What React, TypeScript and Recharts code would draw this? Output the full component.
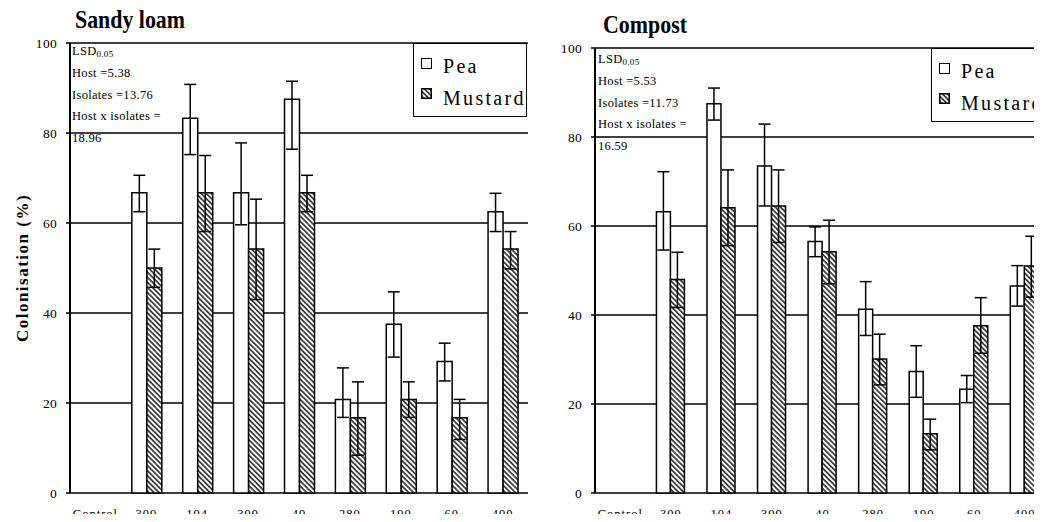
import { BarChart, Bar, XAxis, YAxis, CartesianGrid, ErrorBar, Legend } from 'recharts';

const categories = ['Control', '309', '104', '399', '40', '280', '190', '60', '400'];
const yTicks = [0, 20, 40, 60, 80, 100];

// Sandy loam
const sandyPea = [0, 66.7, 83.3, 66.7, 87.5, 20.8, 37.5, 29.2, 62.5];
const sandyPeaUp = [0, 3.9, 7.5, 11.1, 4, 7, 7.2, 4.1, 4.1];
const sandyPeaDown = [0, 4.2, 8.1, 7.1, 11.1, 4, 7.3, 4.3, 4.4];
const sandyMustard = [0, 50, 66.7, 54.2, 66.7, 16.7, 20.8, 16.7, 54.2];
const sandyMustardUp = [0, 4.2, 8.3, 11.1, 3.9, 8, 3.9, 4.1, 3.9];
const sandyMustardDown = [0, 4.3, 8.6, 11.2, 4.2, 8.3, 4, 4.8, 4.4];

// Compost
const compostPea = [0, 63.2, 87.5, 73.5, 56.5, 41.3, 27.3, 23.3, 46.5];
const compostPeaUp = [0, 9, 3.5, 9.4, 3.3, 6.2, 5.8, 3.1, 4.6];
const compostPeaDown = [0, 8.6, 3.7, 9, 3.4, 5.9, 5.8, 3, 4.5];
const compostMustard = [0, 48, 64.1, 64.5, 54.2, 30.1, 13.3, 37.6, 51];
const compostMustardUp = [0, 6.1, 8.5, 8.1, 7.1, 5.6, 3.3, 6.3, 6.7];
const compostMustardDown = [0, 6.3, 8.5, 8.2, 7.2, 5.8, 3.6, 6.2, 7];

const sandyLsd = ['Host =5.38', 'Isolates =13.76', 'Host x isolates =', '18.96'];
const compostLsd = ['Host =5.53', 'Isolates =11.73', 'Host x isolates =', '16.59'];

const serif = '"Liberation Serif", "Times New Roman", serif';

function rows(pea: number[], peaUp: number[], peaDown: number[], mus: number[], musUp: number[], musDown: number[]) {
  return categories.map((name, i) => ({
    name,
    pea: pea[i],
    mustard: mus[i],
    peaErr: [peaDown[i], peaUp[i]],
    mustardErr: [musDown[i], musUp[i]],
  }));
}

const sandyData = rows(sandyPea, sandyPeaUp, sandyPeaDown, sandyMustard, sandyMustardUp, sandyMustardDown);
const compostData = rows(compostPea, compostPeaUp, compostPeaDown, compostMustard, compostMustardUp, compostMustardDown);

function Hatch({ id }: { id: string }) {
  return (
    <pattern id={id} patternUnits="userSpaceOnUse" width={3.6} height={3.6} patternTransform="rotate(45)">
      <rect width={3.6} height={3.6} fill="#fff" />
      <line x1={0} y1={1.8} x2={3.6} y2={1.8} stroke="#1a1a1a" strokeWidth={1.5} />
    </pattern>
  );
}

function LegendBox({ pid }: { pid: string }) {
  const txt = { position: 'absolute' as const, left: 29, fontFamily: serif, fontSize: 20, letterSpacing: 2.3, lineHeight: '24px', whiteSpace: 'nowrap' as const };
  return (
    <div style={{ position: 'relative', width: 114, height: 74, border: '1.5px solid #000', background: '#fff', boxSizing: 'border-box' }}>
      <div style={{ position: 'absolute', left: 7, top: 14, width: 11, height: 11, border: '1.5px solid #000', boxSizing: 'border-box', background: '#fff' }} />
      <div style={{ ...txt, top: 10 }}>Pea</div>
      <svg style={{ position: 'absolute', left: 7, top: 44 }} width={11} height={11}>
        <defs><Hatch id={pid + 'leg'} /></defs>
        <rect x={0.75} y={0.75} width={9.5} height={9.5} fill={`url(#${pid}leg)`} stroke="#000" strokeWidth={1.5} />
      </svg>
      <div style={{ ...txt, top: 42 }}>Mustard</div>
    </div>
  );
}

interface PanelProps {
  pid: string;
  data: ReturnType<typeof rows>;
  top: number;
  right: number;
  legendLeft: number;
  yLabel?: boolean;
}

function Panel({ pid, data, top, right, legendLeft, yLabel }: PanelProps) {
  const tickFont = { fontFamily: serif, fill: '#000' };
  return (
    <BarChart
      width={560}
      height={522}
      data={data}
      margin={{ top, right, bottom: 0, left: 0 }}
      barCategoryGap="21.5%"
      barGap={0}
    >
      <defs>
        <Hatch id={pid} />
      </defs>
      <CartesianGrid xAxisId="cat" vertical={false} stroke="#000" strokeWidth={1.5} />
      <XAxis
        xAxisId="edges"
        type="number"
        domain={[0, categories.length]}
        ticks={categories.map((_, i) => i).concat(categories.length)}
        tick={false}
        tickSize={5}
        tickLine={{ stroke: '#000', strokeWidth: 1.5 }}
        axisLine={{ stroke: '#000', strokeWidth: 2 }}
        height={0}
      />
      <XAxis
        xAxisId="cat"
        dataKey="name"
        axisLine={false}
        tickLine={false}
        tickSize={6}
        tickMargin={10}
        height={29}
        interval={0}
        tick={{ ...tickFont, fontSize: 12.5, letterSpacing: 1 }}
      />
      <YAxis
        domain={[0, 100]}
        ticks={yTicks}
        width={70}
        tickSize={4}
        tickMargin={9}
        tickLine={{ stroke: '#000', strokeWidth: 1.5 }}
        axisLine={{ stroke: '#000', strokeWidth: 2 }}
        tick={{ ...tickFont, fontSize: 13.5, letterSpacing: 0.3 }}
        label={
          yLabel
            ? {
                value: 'Colonisation (%)',
                angle: -90,
                position: 'insideLeft',
                offset: 22,
                style: { textAnchor: 'middle', fontFamily: serif, fontWeight: 'bold', fontSize: 17, letterSpacing: 1.5, fill: '#000' },
              }
            : undefined
        }
      />
      <YAxis
        yAxisId="frame"
        orientation="right"
        domain={[0, 100]}
        width={0}
        tick={false}
        tickLine={false}
        axisLine={{ stroke: '#000', strokeWidth: 1.5 }}
      />
      <Legend
        layout="vertical"
        align="center"
        verticalAlign="middle"
        wrapperStyle={{ left: legendLeft, top, width: 114 }}
        content={() => <LegendBox pid={pid} />}
      />
      <Bar xAxisId="cat" dataKey="pea" name="Pea" fill="#fff" stroke="#000" strokeWidth={1.5} isAnimationActive={false}>
        <ErrorBar dataKey="peaErr" width={6} stroke="#000" strokeWidth={1.5} direction="y" />
      </Bar>
      <Bar xAxisId="cat" dataKey="mustard" name="Mustard" fill={`url(#${pid})`} stroke="#000" strokeWidth={1.5} isAnimationActive={false}>
        <ErrorBar dataKey="mustardErr" width={6} stroke="#000" strokeWidth={1.5} direction="y" />
      </Bar>
    </BarChart>
  );
}

function Notes({ x, y0, lines }: { x: number; y0: number; lines: string[] }) {
  const step = 21.8;
  return (
    <g fontFamily={serif} fontSize={12.5} letterSpacing={0.3} fill="#000">
      <text x={x} y={y0}>
        LSD<tspan fontSize={9} dy={2}>0.05</tspan>
      </text>
      {lines.map((l, i) => (
        <text key={i} x={x} y={y0 + step * (i + 1)}>
          {l}
        </text>
      ))}
    </g>
  );
}

export default function App() {
  return (
    <div style={{ margin: -8, position: 'relative', width: 1042, height: 522, overflow: 'hidden', background: '#fff' }}>
      <div style={{ position: 'absolute', left: 0, top: 0 }}>
        <Panel pid="hatchSandy" data={sandyData} top={43} right={32} legendLeft={413} yLabel />
      </div>
      <div style={{ position: 'absolute', left: 525, top: 0 }}>
        <Panel pid="hatchCompost" data={compostData} top={48} right={35} legendLeft={406} />
      </div>
      <svg style={{ position: 'absolute', left: 0, top: 0, pointerEvents: 'none' }} width={1042} height={522}>
        <text x={75} y={28} fontFamily={serif} fontWeight="bold" fontSize={25} textLength={110} lengthAdjust="spacingAndGlyphs">
          Sandy loam
        </text>
        <text x={603} y={33} fontFamily={serif} fontWeight="bold" fontSize={25} textLength={84} lengthAdjust="spacingAndGlyphs">
          Compost
        </text>
        <Notes x={72} y0={55} lines={sandyLsd} />
        <Notes x={598} y0={63} lines={compostLsd} />
      </svg>
    </div>
  );
}
